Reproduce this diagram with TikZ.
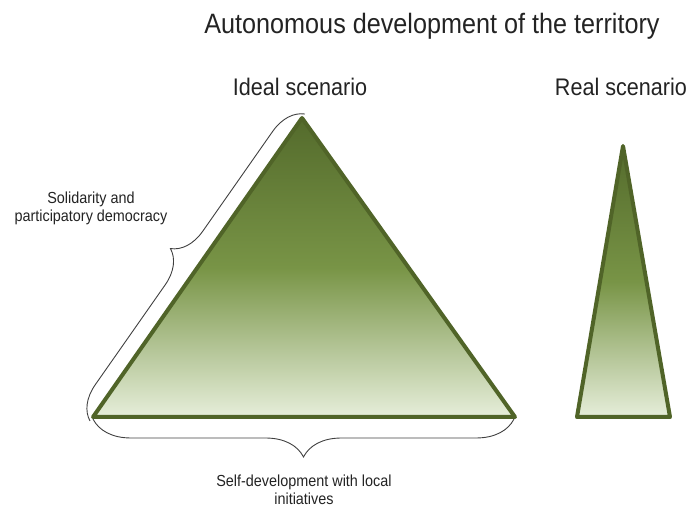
\documentclass[tikz,border=0pt]{standalone}
\usepackage{fontspec}
\setsansfont{Liberation Sans}
\usepackage{tikz}
\usetikzlibrary{decorations.pathreplacing}
\definecolor{olivedark}{RGB}{80,100,40}
\definecolor{olivetop}{RGB}{84,107,44}
\definecolor{olivemid}{RGB}{120,148,70}
\definecolor{olivepale}{RGB}{230,238,218}
\definecolor{inkgray}{RGB}{35,35,35}
\tikzstyle{pyramid} = [
    draw=olivedark, line width=4pt, line join=round,
    top color=olivetop, bottom color=olivepale, middle color=olivemid]
\tikzstyle{brace} = [decorate, draw=black!75, line width=0.9pt]
\tikzstyle{heading} = [text=inkgray, anchor=base, xscale=0.9, font=\sffamily\fontsize{28}{32}\selectfont]
\tikzstyle{scenario} = [text=inkgray, anchor=base, xscale=0.9, font=\sffamily\fontsize{24}{28}\selectfont]
\tikzstyle{remark} = [text=inkgray, align=center, inner sep=1pt, xscale=0.9, font=\sffamily\fontsize{16}{18}\selectfont]

\begin{document}
\begin{tikzpicture}[x=1pt, y=-1pt]
\useasboundingbox (0,0) rectangle (689,510);

\coordinate (ideal-apex) at (302,118);
\coordinate (ideal-left) at (93,417);
\coordinate (ideal-right) at (515,417);
\coordinate (real-apex) at (623,146);
\coordinate (real-left) at (577,417);
\coordinate (real-right) at (670,417);

\coordinate (side-low) at (90,421);
\coordinate (side-high) at (305,114);
\coordinate (base-right) at (514,419);
\coordinate (base-left) at (93,419);

\draw [pyramid] (ideal-left) -- (ideal-apex) -- (ideal-right) -- cycle;
\draw [pyramid] (real-left) -- (real-apex) -- (real-right) -- cycle;

\node (title) [heading] at (432,34) {Autonomous development of the territory};
\node (ideal-label) [scenario] at (300,96) {Ideal scenario};
\node (real-label) [scenario] at (621,96) {Real scenario};

\node (solidarity) [remark] at (91,208) {Solidarity and \\ participatory democracy};
\node (selfdev) [remark] at (304,490) {Self-development with local \\ initiatives};

\draw [brace, decoration={brace, amplitude=33pt}] (side-low) -- (side-high);
\draw [brace, decoration={brace, amplitude=38pt}] (base-right) -- (base-left);
\end{tikzpicture}
\end{document}
